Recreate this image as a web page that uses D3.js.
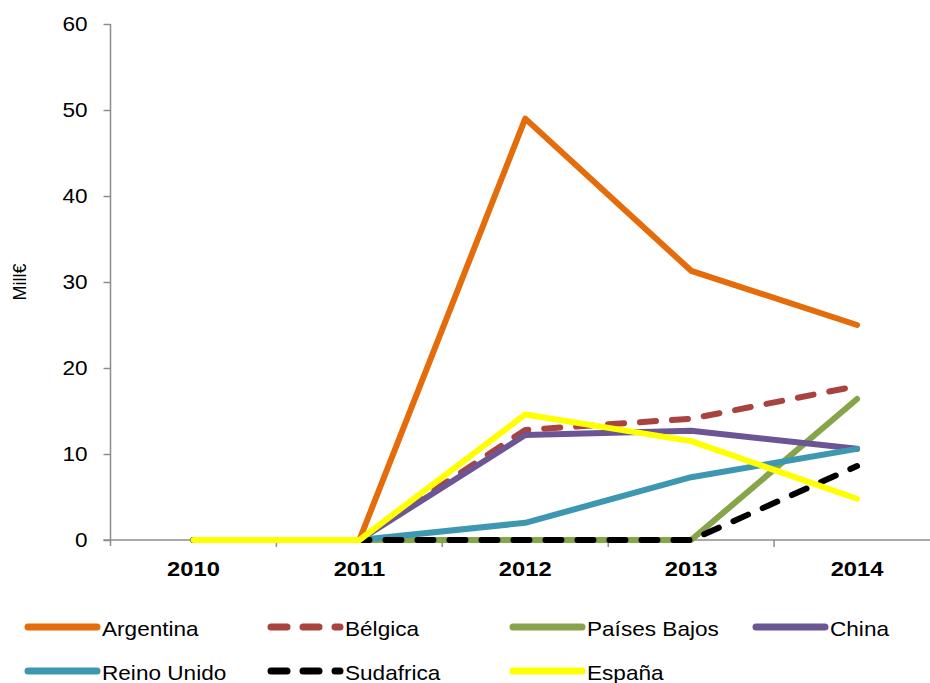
<!DOCTYPE html>
<html>
<head>
<meta charset="utf-8">
<script src="https://cdn.jsdelivr.net/npm/d3@7"></script>
<style>
  html, body { margin: 0; padding: 0; background: #fff; }
  svg { display: block; font-family: "Liberation Sans", Arial, sans-serif; }
</style>
</head>
<body>
<svg id="chart" width="930" height="683"></svg>
<script>
// ---- data ----
const years = ["2010", "2011", "2012", "2013", "2014"];
const yTicks = [0, 10, 20, 30, 40, 50, 60];
const argentina   = [0, 0, 49.0, 31.3, 25.0];
const belgica     = [0, 0, 12.8, 14.1, 17.9];
const paisesBajos = [0, 0, 0, 0, 16.4];
const china       = [0, 0, 12.2, 12.7, 10.6];
const reinoUnido  = [0, 0, 2.0, 7.3, 10.6];
const sudafrica   = [0, 0, 0, 0, 8.6];
const espana      = [0, 0, 14.6, 11.5, 4.8];
const seriesNames = ["Argentina", "Bélgica", "Países Bajos", "China", "Reino Unido", "Sudafrica", "España"];
const yTitle = "Mill€";

const series = [
  { name: seriesNames[0], values: argentina,   color: "#E46C0A", dash: null },
  { name: seriesNames[1], values: belgica,     color: "#A9433F", dash: "16,16" },
  { name: seriesNames[2], values: paisesBajos, color: "#86A44A", dash: null },
  { name: seriesNames[3], values: china,       color: "#6C5594", dash: null },
  { name: seriesNames[4], values: reinoUnido,  color: "#3E97B0", dash: null },
  { name: seriesNames[5], values: sudafrica,   color: "#000000", dash: "16,16" },
  { name: seriesNames[6], values: espana,      color: "#FFFF00", dash: null }
];

const svg = d3.select("#chart");
const mLeft = 110.5, mRight = 940, mTop = 24, mBottom = 540;
const sx = 1.13; // horizontal text stretch seen in the reference

const x = d3.scaleBand().domain(years).range([mLeft, mRight]).paddingInner(0).paddingOuter(0);
const y = d3.scaleLinear().domain([0, 60]).range([mBottom, mTop]);
const cx = d => x(d) + x.bandwidth() / 2;

const axisColor = "#8c8c8c";

// y axis
const yAxis = svg.append("g").attr("transform", `translate(${mLeft},0)`)
  .call(d3.axisLeft(y).tickValues(yTicks).tickSize(7).tickPadding(15).tickSizeOuter(0));
yAxis.select(".domain").attr("stroke", axisColor).attr("stroke-width", 1.5)
  .attr("d", `M0,${mTop}V${mBottom + 6}`);
yAxis.selectAll(".tick line").attr("stroke", axisColor).attr("stroke-width", 1.5);
yAxis.selectAll(".tick text").attr("font-size", 20).attr("fill", "#000")
  .attr("x", -23 / sx)
  .attr("transform", `scale(${sx},1)`)
  .attr("font-family", "'Liberation Sans', Arial, sans-serif");

// x axis
const xAxis = svg.append("g").attr("transform", `translate(0,${mBottom})`)
  .call(d3.axisBottom(x).tickSize(0).tickPadding(21).tickSizeOuter(0));
xAxis.select(".domain").attr("stroke", axisColor).attr("stroke-width", 1.5)
  .attr("d", `M${mLeft - 7},0H${mRight}`);
xAxis.selectAll(".tick text").attr("font-size", 21).attr("font-weight", "bold").attr("fill", "#000")
  .attr("transform", `scale(${sx},1)`)
  .attr("font-family", "'Liberation Sans', Arial, sans-serif");
// boundary ticks
xAxis.selectAll(".bt").data(years.slice(1)).enter().append("line")
  .attr("class", "bt")
  .attr("x1", d => x(d)).attr("x2", d => x(d))
  .attr("y1", 0).attr("y2", 7)
  .attr("stroke", axisColor).attr("stroke-width", 1.5);

// y title
svg.append("text")
  .attr("transform", `translate(26,282) rotate(-90)`)
  .attr("text-anchor", "middle")
  .attr("font-size", 18)
  .attr("fill", "#000")
  .text(yTitle);

// lines
const line = d3.line().x((d, i) => cx(years[i])).y(d => y(d));
svg.append("g").selectAll("path").data(series).enter().append("path")
  .attr("d", d => line(d.values))
  .attr("fill", "none")
  .attr("stroke", d => d.color)
  .attr("stroke-width", 6)
  .attr("stroke-linejoin", "round")
  .attr("stroke-linecap", "round")
  .attr("stroke-dasharray", d => d.dash);

// legend
const colX = [28, 271, 513, 756];
const rowY = [627, 671];
const leg = svg.append("g").selectAll("g").data(series).enter().append("g")
  .attr("transform", (d, i) => `translate(${colX[i % 4]},${rowY[Math.floor(i / 4)]})`);
leg.append("line")
  .attr("x1", 0).attr("x2", 69).attr("y1", 0).attr("y2", 0)
  .attr("stroke", d => d.color)
  .attr("stroke-width", 7)
  .attr("stroke-linecap", "round")
  .attr("stroke-dasharray", d => d.dash);
leg.append("text")
  .attr("x", 74 / sx).attr("y", 9)
  .attr("transform", `scale(${sx},1)`)
  .attr("font-size", 20)
  .attr("fill", "#000")
  .text(d => d.name);
</script>
</body>
</html>
